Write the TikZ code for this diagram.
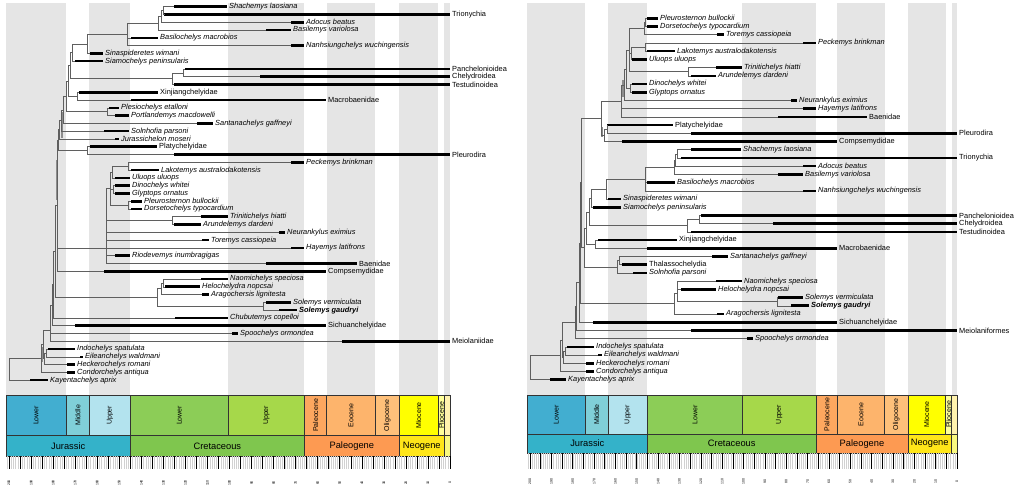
\documentclass[tikz,border=0pt]{standalone}
\usepackage{fontspec}
\setmainfont{Liberation Sans}
\usetikzlibrary{calc}
\definecolor{LJ}{RGB}{66,174,208}
\definecolor{MJ}{RGB}{128,207,216}
\definecolor{UJ}{RGB}{179,227,238}
\definecolor{JJ}{RGB}{52,178,201}
\definecolor{LK}{RGB}{140,205,87}
\definecolor{UK}{RGB}{166,216,74}
\definecolor{KK}{RGB}{127,198,78}
\definecolor{PAL}{RGB}{253,167,95}
\definecolor{EOC}{RGB}{253,180,108}
\definecolor{OLI}{RGB}{254,192,122}
\definecolor{PGN}{RGB}{253,154,82}
\definecolor{MIO}{RGB}{255,255,0}
\definecolor{PLI}{RGB}{255,255,153}
\definecolor{NGN}{RGB}{255,230,25}
\definecolor{PLE}{RGB}{255,242,174}
\definecolor{QUA}{RGB}{249,249,127}
\definecolor{bandgrey}{RGB}{229,229,229}
\definecolor{branch}{RGB}{95,95,95}
\tikzset{
  br/.style={draw=branch, line width=0.55pt},
  bar/.style={line width=2.6pt, black},
  nodebar/.style={draw=black!45, line width=1.6pt},
  lab/.style={anchor=west, inner sep=0pt, xshift=2pt, font=\fontsize{7.4}{8.5}\selectfont\itshape},
  tsbox/.style={draw=black!80, line width=0.45pt},
  eplab/.style={rotate=90, inner sep=0pt, font=\fontsize{7}{8}\selectfont},
  perlab/.style={inner sep=0pt, font=\fontsize{9.3}{11}\selectfont},
  agelab/.style={rotate=90, inner sep=0pt, font=\fontsize{3.5}{4}\selectfont},
  minortick/.style={draw=black!18, line width=0.25pt},
  majortick/.style={draw=black, line width=0.55pt},
}
\newcommand{\tipat}[5]{%
  \coordinate (#1) at (#3,#2);
  \coordinate (#1e) at (#4,#2);
  \draw[bar] (#1) -- (#1e);
  \node[lab] (#1l) at (#1e) {#5};}
\newcommand{\ltip}[5]{\tipat{#1}{{6.7+(#2-1)*7.78}}{#3}{#4}{#5}}
\newcommand{\rtip}[5]{\tipat{#1}{{18.3+(#2-1)*8.214}}{#3}{#4}{#5}}
\newcommand{\inode}[4]{\path let \p1=(#3), \p2=(#4) in (#2pt,{0.5*\y1+0.5*\y2}) coordinate (#1);}
\newcommand{\kids}[2]{\foreach \kid in {#2} {\draw[br] (#1) |- (\kid);}}
\newcommand{\epochbox}[8]{%
  \filldraw[tsbox, fill=#7] ({#1-#2*#3},#5) rectangle ({#1-#2*#4},#6);
  \node[eplab] at ({#1-#2*(#3+#4)/2},{(#5+#6)/2}) {#8};}
\newcommand{\periodbox}[8]{%
  \filldraw[tsbox, fill=#7] ({#1-#2*#3},#5) rectangle ({#1-#2*#4},#6);
  \node[perlab] at ({#1-#2*(#3+#4)/2},{(#5+#6)/2}) {#8};}
\newcommand{\bands}[4]{%
  \foreach \aa/\bb in {201.3/174.1,163.5/145,100.5/66,56/33.9,23.03/5.333,2.58/0}
    {\fill[bandgrey] ({#1-#2*\aa},#3) rectangle ({#1-#2*\bb},#4);}}
\newcommand{\drawtimescale}[7]{%
  \epochbox{#1}{#2}{201.3}{174.1}{#3}{#4}{LJ}{Lower}
  \epochbox{#1}{#2}{174.1}{163.5}{#3}{#4}{MJ}{Middle}
  \epochbox{#1}{#2}{163.5}{145}{#3}{#4}{UJ}{Upper}
  \epochbox{#1}{#2}{145}{100.5}{#3}{#4}{LK}{Lower}
  \epochbox{#1}{#2}{100.5}{66}{#3}{#4}{UK}{Upper}
  \epochbox{#1}{#2}{66}{56}{#3}{#4}{PAL}{Paleocene}
  \epochbox{#1}{#2}{56}{33.9}{#3}{#4}{EOC}{Eocene}
  \epochbox{#1}{#2}{33.9}{23.03}{#3}{#4}{OLI}{Oligocene}
  \epochbox{#1}{#2}{23.03}{5.333}{#3}{#4}{MIO}{Miocene}
  \epochbox{#1}{#2}{5.333}{2.58}{#3}{#4}{PLI}{Pliocene}
  \epochbox{#1}{#2}{2.58}{0}{#3}{#4}{PLE}{}
  \periodbox{#1}{#2}{201.3}{145}{#4}{#5}{JJ}{Jurassic}
  \periodbox{#1}{#2}{145}{66}{#4}{#5}{KK}{Cretaceous}
  \periodbox{#1}{#2}{66}{23.03}{#4}{#5}{PGN}{Paleogene}
  \periodbox{#1}{#2}{23.03}{2.58}{#4}{#5}{NGN}{Neogene}
  \periodbox{#1}{#2}{2.58}{0}{#4}{#5}{QUA}{}
  \foreach \aa in {0,...,201} {\draw[minortick] ({#1-#2*\aa},#5) -- ({#1-#2*\aa},#6);}
  \foreach \aa in {0,5,...,200} {\draw[majortick] ({#1-#2*\aa},#5) -- ({#1-#2*\aa},#6);}
  \foreach \aa in {0,10,...,200} {\node[agelab] at ({#1-#2*\aa},#7) {\aa};}}
\begin{document}
\begin{tikzpicture}[x=1pt,y=-1pt]
\useasboundingbox (0,0) rectangle (1024,491);
\fill[white] (0,0) rectangle (1024,491);
% background stripes
\bands{450}{2.205}{3}{395}
\bands{957}{2.135}{3}{395}

% ================= LEFT TREE =================
\ltip{L1}{1}{174}{227}{Shachemys laosiana}
\ltip{L2}{2}{164}{450}{\upshape Trionychia}
\ltip{L3}{3}{291}{304}{Adocus beatus}
\ltip{L4}{4}{266}{291}{Basilemys variolosa}
\ltip{L5}{5}{131}{158}{Basilochelys macrobios}
\ltip{L6}{6}{291}{304}{Nanhsiungchelys wuchingensis}
\ltip{L7}{7}{90}{103}{Sinaspideretes wimani}
\ltip{L8}{8}{75}{103}{Siamochelys peninsularis}
\ltip{L9}{9}{185}{450}{\upshape Panchelonioidea}
\ltip{L10}{10}{260}{450}{\upshape Chelydroidea}
\ltip{L11}{11}{174}{450}{\upshape Testudinoidea}
\ltip{L12}{12}{79}{158}{\upshape Xinjiangchelyidae}
\ltip{L13}{13}{131}{326}{\upshape Macrobaenidae}
\ltip{L14}{14}{109}{119}{Plesiochelys etalloni}
\ltip{L15}{15}{115}{129}{Portlandemys macdowelli}
\ltip{L16}{16}{197}{213}{Santanachelys gaffneyi}
\ltip{L17}{17}{104}{129}{Solnhofia parsoni}
\ltip{L18}{18}{115}{119}{Jurassichelon moseri}
\ltip{L19}{19}{90}{157}{\upshape Platychelyidae}
\ltip{L20}{20}{174}{450}{\upshape Pleurodira}
\ltip{L21}{21}{291}{304}{Peckemys brinkman}
\ltip{L22}{22}{131}{159}{Lakotemys australodakotensis}
\ltip{L23}{23}{115}{130}{Uluops uluops}
\ltip{L24}{24}{115}{130}{Dinochelys whitei}
\ltip{L25}{25}{115}{130}{Glyptops ornatus}
\ltip{L26}{26}{131}{142}{Pleurosternon bullockii}
\ltip{L27}{27}{131}{142}{Dorsetochelys typocardium}
\ltip{L28}{28}{201}{228}{Trinitichelys hiatti}
\ltip{L29}{29}{174}{201}{Arundelemys dardeni}
\ltip{L30}{30}{279}{285}{Neurankylus eximius}
\ltip{L31}{31}{202}{209}{Toremys cassiopeia}
\ltip{L32}{32}{291}{304}{Hayemys latifrons}
\ltip{L33}{33}{115}{130}{Riodevemys inumbragigas}
\ltip{L34}{34}{266}{357}{\upshape Baenidae}
\ltip{L35}{35}{104}{326}{\upshape Compsemydidae}
\ltip{L36}{36}{201}{228}{Naomichelys speciosa}
\ltip{L37}{37}{165}{200}{Helochelydra nopcsai}
\ltip{L38}{38}{202}{209}{Aragochersis lignitesta}
\ltip{L39}{39}{266}{291}{Solemys vermiculata}
\ltip{L40}{40}{279}{297}{\bfseries Solemys gaudryi}
\ltip{L41}{41}{175}{228}{Chubutemys copelloi}
\ltip{L42}{42}{75}{326}{\upshape Sichuanchelyidae}
\ltip{L43}{43}{232}{238}{Spoochelys ormondea}
\ltip{L44}{44}{342}{450}{\upshape Meiolaniidae}
\ltip{L45}{45}{48}{75}{Indochelys spatulata}
\ltip{L46}{46}{80}{83}{Eileanchelys waldmani}
\ltip{L47}{47}{67}{75}{Heckerochelys romani}
\ltip{L48}{48}{67}{75}{Condorchelys antiqua}
\ltip{L49}{49}{30}{48}{Kayentachelys aprix}

% node uncertainty bars (left)
\coordinate (Lnb1a) at (62,112); \coordinate (Lnb1b) at (62,138);
\coordinate (Lnb2a) at (52.5,300); \coordinate (Lnb2b) at (52.5,323);
\coordinate (Lnb3a) at (42.5,347); \coordinate (Lnb3b) at (42.5,362);
\coordinate (Lnb4a) at (56.5,160); \coordinate (Lnb4b) at (56.5,200);
\draw[nodebar] (Lnb1a) -- (Lnb1b);
\draw[nodebar] (Lnb2a) -- (Lnb2b);
\draw[nodebar] (Lnb3a) -- (Lnb3b);
\draw[nodebar] (Lnb4a) -- (Lnb4b);

\inode{LA}{163.5}{L1}{L2}\kids{LA}{L1,L2}
\inode{LB}{161}{LA}{L3}\kids{LB}{LA,L3}
\inode{LC}{158.3}{LB}{L4}\kids{LC}{LB,L4}
\inode{LD}{127.7}{LC}{L6}\kids{LD}{LC,L5,L6}
\inode{LE}{87.3}{LD}{L7}\kids{LE}{LD,L7}
\inode{LF}{72.7}{LE}{L8}\kids{LF}{LE,L8}
\inode{LI}{183.3}{L9}{L10}\kids{LI}{L9,L10}
\inode{LH}{172.3}{LI}{L11}\kids{LH}{LI,L11}
\inode{LG}{70}{LF}{LH}\kids{LG}{LF,LH}
\inode{LJ}{77.3}{L12}{L13}\kids{LJ}{L12,L13}
\inode{LK}{68.3}{LG}{LJ}\kids{LK}{LG,LJ}
\inode{LL}{107.3}{L14}{L15}\kids{LL}{L14,L15}
\inode{LM}{66}{LK}{LL}\kids{LM}{LK,LL}
\inode{LN}{63.3}{LM}{L16}\kids{LN}{LM,L16}
\inode{LO}{61}{LN}{L17}\kids{LO}{LN,L17}
\inode{LP}{59.3}{LO}{L18}\kids{LP}{LO,L18}
\inode{LR}{87.3}{L19}{L20}\kids{LR}{L19,L20}
\inode{LQ}{58.3}{LP}{LR}\kids{LQ}{LP,LR}
\inode{LS}{128.3}{L21}{L22}\kids{LS}{L21,L22}
\inode{LT}{112.7}{LS}{L23}\kids{LT}{LS,L23}
\inode{LU}{113.3}{L24}{L25}\kids{LU}{L24,L25}
\inode{LV}{128.3}{L26}{L27}\kids{LV}{L26,L27}
\inode{LW}{110}{LT}{LV}\kids{LW}{LT,LU,LV}
\inode{LX}{172.3}{L28}{L29}\kids{LX}{L28,L29}
\coordinate (LPc) at (106.7,{6.7+31*7.78});
\kids{LPc}{LW,LX,L30,L31,L32,L33,L34}
\inode{LY}{57.3}{LQ}{L35}\kids{LY}{LQ,LPc,L35}
\inode{La1}{163.3}{L36}{L37}\kids{La1}{L36,L37}
\inode{La2}{161}{La1}{L38}\kids{La2}{La1,L38}
\inode{Lsol}{263.3}{L39}{L40}\kids{Lsol}{L39,L40}
\inode{LZ}{157.7}{La2}{Lsol}\kids{LZ}{La2,Lsol}
\inode{LAA}{55}{LY}{LZ}\kids{LAA}{LY,LZ}
\inode{LBB}{53.3}{LAA}{L41}\kids{LBB}{LAA,L41}
\inode{LCC}{52.3}{LBB}{L42}\kids{LCC}{LBB,L42}
\inode{LDD}{50.7}{LCC}{L43}\kids{LDD}{LCC,L43}
\inode{LEE}{50}{LDD}{L44}\kids{LEE}{LDD,L44}
\inode{Lff}{46}{L45}{L46}\kids{Lff}{L45,L46}
\inode{Lgg}{44.7}{Lff}{L47}\kids{Lgg}{Lff,L47}
\inode{Lhh}{43.3}{LEE}{Lgg}\kids{Lhh}{LEE,Lgg}
\inode{Lii}{41.7}{Lhh}{L48}\kids{Lii}{Lhh,L48}
\inode{Lroot}{9.3}{Lii}{L49}\kids{Lroot}{Lii,L49}

% ================= RIGHT TREE =================
\rtip{R1}{1}{647}{658}{Pleurosternon bullockii}
\rtip{R2}{2}{647}{658}{Dorsetochelys typocardium}
\rtip{R3}{3}{717}{724}{Toremys cassiopeia}
\rtip{R4}{4}{803}{816}{Peckemys brinkman}
\rtip{R5}{5}{647}{675}{Lakotemys australodakotensis}
\rtip{R6}{6}{632}{647}{Uluops uluops}
\rtip{R7}{7}{716}{742}{Trinitichelys hiatti}
\rtip{R8}{8}{691}{716}{Arundelemys dardeni}
\rtip{R9}{9}{632}{647}{Dinochelys whitei}
\rtip{R10}{10}{632}{647}{Glyptops ornatus}
\rtip{R11}{11}{791}{797}{Neurankylus eximius}
\rtip{R12}{12}{803}{816}{Hayemys latifrons}
\rtip{R13}{13}{778}{867}{\upshape Baenidae}
\rtip{R14}{14}{607}{673}{\upshape Platychelyidae}
\rtip{R15}{15}{691}{957}{\upshape Pleurodira}
\rtip{R16}{16}{622}{837}{\upshape Compsemydidae}
\rtip{R17}{17}{691}{741}{Shachemys laosiana}
\rtip{R18}{18}{681}{957}{\upshape Trionychia}
\rtip{R19}{19}{803}{816}{Adocus beatus}
\rtip{R20}{20}{778}{803}{Basilemys variolosa}
\rtip{R21}{21}{647}{675}{Basilochelys macrobios}
\rtip{R22}{22}{803}{816}{Nanhsiungchelys wuchingensis}
\rtip{R23}{23}{608}{621}{Sinaspideretes wimani}
\rtip{R24}{24}{593}{621}{Siamochelys peninsularis}
\rtip{R25}{25}{701}{957}{\upshape Panchelonioidea}
\rtip{R26}{26}{773}{957}{\upshape Chelydroidea}
\rtip{R27}{27}{691}{957}{\upshape Testudinoidea}
\rtip{R28}{28}{598}{677}{\upshape Xinjiangchelyidae}
\rtip{R29}{29}{647}{837}{\upshape Macrobaenidae}
\rtip{R30}{30}{712}{728}{Santanachelys gaffneyi}
\rtip{R31}{31}{622}{647}{\upshape Thalassochelydia}
\rtip{R32}{32}{633}{647}{Solnhofia parsoni}
\rtip{R33}{33}{716}{742}{Naomichelys speciosa}
\rtip{R34}{34}{681}{716}{Helochelydra nopcsai}
\rtip{R35}{35}{778}{803}{Solemys vermiculata}
\rtip{R36}{36}{791}{809}{\bfseries Solemys gaudryi}
\rtip{R37}{37}{717}{724}{Aragochersis lignitesta}
\rtip{R38}{38}{593}{837}{\upshape Sichuanchelyidae}
\rtip{R39}{39}{691}{957}{\upshape Meiolaniformes}
\rtip{R40}{40}{747}{753}{Spoochelys ormondea}
\rtip{R41}{41}{567}{594}{Indochelys spatulata}
\rtip{R42}{42}{598}{602}{Eileanchelys waldmani}
\rtip{R43}{43}{586}{594}{Heckerochelys romani}
\rtip{R44}{44}{586}{594}{Condorchelys antiqua}
\rtip{R45}{45}{550}{566}{Kayentachelys aprix}

% node uncertainty bars (right)
\coordinate (Rnb1a) at (581,182); \coordinate (Rnb1b) at (581,232);
\coordinate (Rnb2a) at (623,80); \coordinate (Rnb2b) at (623,97);
\coordinate (Rnb3a) at (601.7,127); \coordinate (Rnb3b) at (601.7,137);
\coordinate (Rnb4a) at (560.5,350); \coordinate (Rnb4b) at (560.5,363);
\draw[nodebar] (Rnb1a) -- (Rnb1b);
\draw[nodebar] (Rnb2a) -- (Rnb2b);
\draw[nodebar] (Rnb3a) -- (Rnb3b);
\draw[nodebar] (Rnb4a) -- (Rnb4b);

\inode{Ra1}{645.7}{R1}{R2}\kids{Ra1}{R1,R2}
\inode{Ra2}{644}{Ra1}{R3}\kids{Ra2}{Ra1,R3}
\inode{Ra3}{645.7}{R4}{R5}\kids{Ra3}{R4,R5}
\inode{Ra4}{631}{Ra3}{R6}\kids{Ra4}{Ra3,R6}
\inode{Ra5}{688.3}{R7}{R8}\kids{Ra5}{R7,R8}
\inode{Ra6}{629.3}{Ra2}{Ra5}\kids{Ra6}{Ra2,Ra4,Ra5}
\inode{Ra7}{630}{R9}{R10}\kids{Ra7}{R9,R10}
\inode{Ra8}{626}{Ra6}{Ra7}\kids{Ra8}{Ra6,Ra7}
\inode{Ra9}{624}{Ra8}{R11}\kids{Ra9}{Ra8,R11}
\inode{Ra10}{621.7}{Ra9}{R13}\kids{Ra10}{Ra9,R12,R13}
\inode{Ra11}{607.3}{R14}{R15}\kids{Ra11}{R14,R15}
\inode{Ra12}{604}{Ra11}{R16}\kids{Ra12}{Ra11,R16}
\inode{Ra13}{601}{Ra10}{Ra12}\kids{Ra13}{Ra10,Ra12}
\inode{Rb14}{677.7}{R17}{R18}\kids{Rb14}{R17,R18}
\inode{Rb15}{675.7}{Rb14}{R19}\kids{Rb15}{Rb14,R19}
\inode{Rb16}{674}{Rb15}{R20}\kids{Rb16}{Rb15,R20}
\inode{Rb17}{645.7}{Rb16}{R22}\kids{Rb17}{Rb16,R21,R22}
\inode{Rb18}{606}{Rb17}{R23}\kids{Rb18}{Rb17,R23}
\inode{Rb19}{591.7}{Rb18}{R24}\kids{Rb19}{Rb18,R24}
\inode{Rb20}{699.3}{R25}{R26}\kids{Rb20}{R25,R26}
\inode{Rb21}{687.7}{Rb20}{R27}\kids{Rb21}{Rb20,R27}
\inode{Rb22}{589.3}{Rb19}{Rb21}\kids{Rb22}{Rb19,Rb21}
\inode{Rb23}{595.7}{R28}{R29}\kids{Rb23}{R28,R29}
\inode{Rb24}{586.7}{Rb22}{Rb23}\kids{Rb24}{Rb22,Rb23}
\inode{Rc1}{619.3}{R30}{R31}\kids{Rc1}{R30,R31}
\inode{Rc2}{617.3}{Rc1}{R32}\kids{Rc2}{Rc1,R32}
\inode{Rc3}{584.3}{Rb24}{Rc2}\kids{Rc3}{Rb24,Rc2}
\inode{Rc4}{581.7}{Ra13}{Rc3}\kids{Rc4}{Ra13,Rc3}
\inode{Rh1}{677.7}{R33}{R34}\kids{Rh1}{R33,R34}
\inode{Rh2}{777.3}{R35}{R36}\kids{Rh2}{R35,R36}
\inode{Rh3}{677}{Rh1}{Rh2}\kids{Rh3}{Rh1,Rh2}
\inode{Rh4}{674.3}{Rh3}{R37}\kids{Rh4}{Rh3,R37}
\inode{Rd1}{580}{Rc4}{Rh4}\kids{Rd1}{Rc4,Rh4}
\inode{Rd2}{579}{Rd1}{R38}\kids{Rd2}{Rd1,R38}
\inode{Rd3}{576.7}{Rd2}{R39}\kids{Rd3}{Rd2,R39}
\inode{Rd4}{575}{Rd3}{R40}\kids{Rd4}{Rd3,R40}
\inode{Re1}{565.7}{R41}{R42}\kids{Re1}{R41,R42}
\inode{Re2}{563.3}{Re1}{R43}\kids{Re2}{Re1,R43}
\inode{Re3}{562.3}{Rd4}{Re2}\kids{Re3}{Rd4,Re2}
\inode{Re4}{560}{Re3}{R44}\kids{Re4}{Re3,R44}
\inode{Rroot}{530.7}{Re4}{R45}\kids{Rroot}{Re4,R45}

% ================= TIME SCALES =================
\drawtimescale{450}{2.205}{395}{435.7}{456}{469}{483}
\drawtimescale{957}{2.135}{395}{434}{453.3}{469}{481.7}
\end{tikzpicture}
\end{document}
